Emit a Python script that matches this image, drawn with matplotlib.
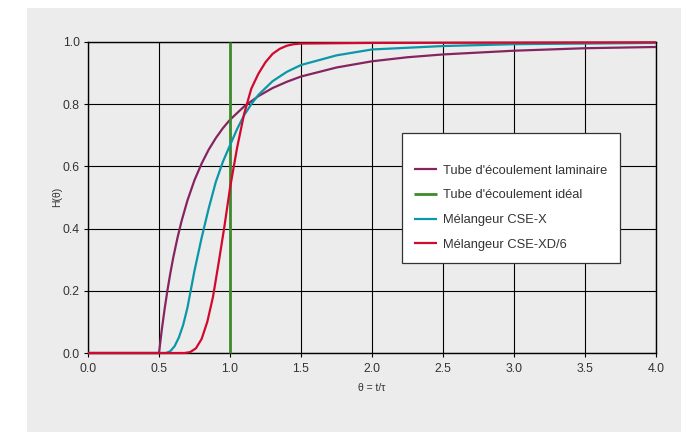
import matplotlib
matplotlib.use("Agg")
import matplotlib.pyplot as plt
from matplotlib.patches import Rectangle

plt.rcParams['font.family'] = ['Liberation Sans', 'DejaVu Sans']

# values
theta_lam = [0.0, 0.5, 0.52, 0.54, 0.56, 0.58, 0.6, 0.63, 0.66, 0.7, 0.75, 0.8, 0.85, 0.9, 0.95,
             1.0, 1.1, 1.2, 1.3, 1.4, 1.5, 1.75, 2.0, 2.25, 2.5, 3.0, 3.5, 4.0]
h_lam = [0.0, 0.0, 0.076, 0.143, 0.203, 0.257, 0.306, 0.370, 0.426, 0.490, 0.556, 0.609, 0.654,
         0.691, 0.723, 0.750, 0.793, 0.826, 0.852, 0.872, 0.889, 0.918, 0.938, 0.951, 0.960,
         0.972, 0.980, 0.984]

theta_ideal = [1.0, 1.0]
h_ideal = [0.0, 1.0]

theta_x = [0.0, 0.55, 0.58, 0.61, 0.64, 0.67, 0.7, 0.75, 0.8, 0.85, 0.9, 0.95, 1.0, 1.05, 1.1,
           1.15, 1.2, 1.3, 1.4, 1.5, 1.75, 2.0, 2.5, 3.0, 3.5, 4.0]
h_x = [0.0, 0.0, 0.006, 0.022, 0.05, 0.09, 0.145, 0.265, 0.37, 0.465, 0.55, 0.615, 0.668, 0.72,
       0.765, 0.80, 0.83, 0.874, 0.904, 0.926, 0.957, 0.976, 0.987, 0.993, 0.995, 0.997]

theta_xd = [0.0, 0.68, 0.72, 0.76, 0.8, 0.84, 0.88, 0.92, 0.96, 1.0, 1.05, 1.1, 1.15, 1.2, 1.25,
            1.3, 1.35, 1.4, 1.45, 1.5, 2.0, 3.0, 4.0]
h_xd = [0.0, 0.0, 0.003, 0.015, 0.045, 0.10, 0.18, 0.29, 0.405, 0.53, 0.66, 0.77, 0.85, 0.898,
        0.935, 0.962, 0.978, 0.988, 0.993, 0.995, 0.997, 0.998, 0.999]

labels = ["Tube d'écoulement laminaire", "Tube d'écoulement idéal",
          "Mélangeur CSE-X", "Mélangeur CSE-XD/6"]
colors = ['#86245F', '#3E8A2C', '#0A97A8', '#D2082E']
widths = [1.6, 2.0, 1.6, 1.6]

bg = '#ECECEC'
fig = plt.figure(figsize=(6.98, 4.32), dpi=100)
panel = Rectangle((27/698, 0), (681-27)/698, 1-8/432, transform=fig.transFigure,
                  facecolor=bg, edgecolor='none', zorder=-10)
fig.add_artist(panel)
ax = fig.add_axes([88/698, 1-353/432, (656-88)/698, (353-42)/432])
ax.set_facecolor(bg)

series = [(theta_lam, h_lam), (theta_ideal, h_ideal), (theta_x, h_x), (theta_xd, h_xd)]
for (t, h), lab, c, w in zip(series, labels, colors, widths):
    ax.plot(t, h, color=c, lw=w, label=lab, solid_capstyle='butt', zorder=3, clip_on=False)

ax.set_xlim(0, 4)
ax.set_ylim(0, 1)
ax.set_xticks([i * 0.5 for i in range(9)])
ax.set_yticks([i * 0.2 for i in range(6)])
ax.set_xticklabels(['%.1f' % (i * 0.5) for i in range(9)])
ax.set_yticklabels(['%.1f' % (i * 0.2) for i in range(6)])
ax.grid(True, color='black', lw=0.8, zorder=1)
ax.set_axisbelow(True)
for s in ax.spines.values():
    s.set_color('black')
    s.set_linewidth(1.0)
    s.set_zorder(2)
ax.tick_params(length=3, width=0.8, color='black', labelsize=8.8, labelcolor='#333333')
ax.tick_params(axis='x', pad=4.5)
ax.tick_params(axis='y', pad=3)

ax.set_xlabel('θ = t/τ', fontsize=7.5, color='#333333')
ax.set_ylabel('H(θ)', fontsize=7.5, color='#333333')
ax.xaxis.set_label_coords(0.5, -0.097)
ax.yaxis.set_label_coords(-0.046, 0.502)

leg = ax.legend(loc='lower left', bbox_to_anchor=(402/698, 1-263/432), bbox_transform=fig.transFigure,
                frameon=True, fancybox=False, framealpha=1, facecolor='white', edgecolor='#333333',
                fontsize=9.3, handlelength=1.75, handletextpad=0.5, labelspacing=0.98,
                borderpad=0.95, borderaxespad=0, title=' ', title_fontsize=5.5)
leg.get_frame().set_linewidth(0.9)
for t in leg.get_texts():
    t.set_color('#333333')

fig.savefig('out.png', dpi=100)
